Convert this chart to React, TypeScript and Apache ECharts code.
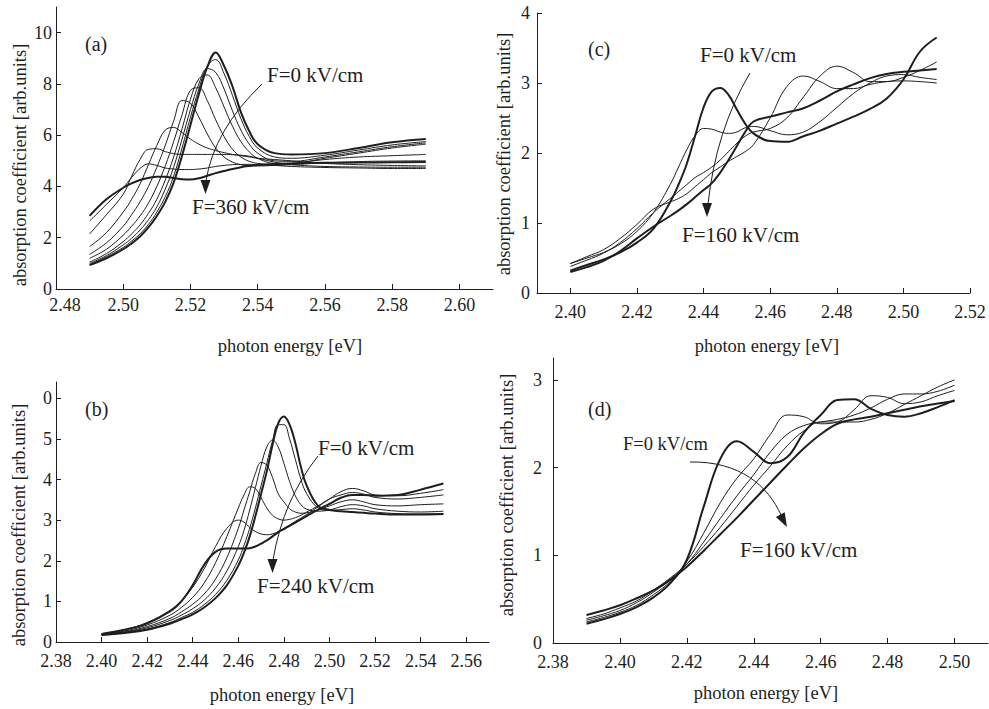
import React, { useEffect, useRef } from "react";
import * as echarts from "echarts";

const FONT = "'Liberation Serif', 'Times New Roman', serif";
const INK = "#1e1e1e";

// ---------- Panel (a) ----------
const xA = [2.49, 2.495, 2.5, 2.5025, 2.505, 2.5075, 2.51, 2.5125, 2.515, 2.5175, 2.52, 2.5225, 2.525, 2.5275, 2.53, 2.5325, 2.535, 2.5375, 2.54, 2.545, 2.55, 2.56, 2.57, 2.58, 2.59];
const aF0 = [0.93, 1.2, 1.55, 1.78, 2.05, 2.4, 2.85, 3.4, 4.15, 5.2, 6.4, 7.6, 8.65, 9.23, 8.7, 7.9, 6.9, 6.15, 5.65, 5.3, 5.25, 5.3, 5.5, 5.72, 5.85];
const aF40 = [0.95, 1.25, 1.62, 1.87, 2.15, 2.52, 3.0, 3.6, 4.4, 5.5, 6.7, 7.8, 8.7, 8.95, 8.4, 7.55, 6.65, 5.95, 5.5, 5.15, 5.1, 5.22, 5.42, 5.62, 5.75];
const aF80 = [1.0, 1.3, 1.72, 1.98, 2.3, 2.7, 3.2, 3.9, 4.75, 5.85, 7.0, 8.0, 8.6, 8.45, 7.8, 6.95, 6.2, 5.65, 5.3, 5.0, 4.98, 5.15, 5.35, 5.55, 5.7];
const aF120 = [1.05, 1.38, 1.85, 2.15, 2.5, 2.95, 3.5, 4.25, 5.15, 6.25, 7.4, 8.2, 8.35, 7.85, 7.1, 6.35, 5.75, 5.35, 5.1, 4.9, 4.9, 5.1, 5.3, 5.5, 5.65];
const aF160 = [1.2, 1.55, 2.1, 2.45, 2.85, 3.35, 4.0, 4.8, 5.75, 6.8, 7.75, 7.85, 7.35, 6.6, 5.95, 5.45, 5.15, 4.98, 4.9, 4.85, 4.9, 5.05, 5.15, 5.2, 5.25];
const aF200 = [1.35, 1.8, 2.45, 2.9, 3.4, 4.0, 4.75, 5.6, 6.55, 7.35, 7.25, 6.7, 6.05, 5.5, 5.15, 4.95, 4.85, 4.8, 4.8, 4.82, 4.85, 4.92, 4.97, 4.99, 5.0];
const aF240 = [1.65, 2.2, 3.0, 3.5, 4.1, 4.85, 5.6, 6.2, 6.3, 6.1, 5.85, 5.65, 5.5, 5.4, 5.32, 5.25, 5.2, 5.15, 5.1, 5.05, 5.0, 4.9, 4.85, 4.82, 4.8];
const aF280 = [2.15, 2.9, 3.7, 4.4, 5.05, 5.45, 5.47, 5.36, 5.28, 5.25, 5.25, 5.25, 5.25, 5.25, 5.25, 5.24, 5.22, 5.18, 5.1, 4.95, 4.85, 4.78, 4.76, 4.75, 4.75];
const aF320 = [2.65, 3.3, 3.95, 4.35, 4.7, 4.88, 4.82, 4.72, 4.68, 4.66, 4.66, 4.68, 4.72, 4.78, 4.82, 4.85, 4.86, 4.86, 4.85, 4.82, 4.78, 4.74, 4.72, 4.7, 4.7];
const aF360 = [2.85, 3.5, 3.95, 4.12, 4.25, 4.33, 4.38, 4.38, 4.33, 4.28, 4.27, 4.32, 4.42, 4.52, 4.6, 4.68, 4.75, 4.8, 4.84, 4.88, 4.9, 4.92, 4.93, 4.94, 4.95];

// ---------- Panel (b) ----------
const xB = [2.4, 2.41, 2.42, 2.43, 2.435, 2.44, 2.445, 2.45, 2.455, 2.46, 2.4625, 2.465, 2.4675, 2.47, 2.4725, 2.475, 2.4775, 2.48, 2.4825, 2.485, 2.4875, 2.49, 2.495, 2.5, 2.505, 2.51, 2.515, 2.52, 2.53, 2.54, 2.55];
const bF0 = [0.17, 0.22, 0.3, 0.45, 0.56, 0.68, 0.85, 1.08, 1.4, 1.88, 2.2, 2.6, 3.1, 3.65, 4.2, 4.85, 5.38, 5.55, 5.35, 4.9, 4.3, 3.85, 3.35, 3.25, 3.22, 3.2, 3.18, 3.16, 3.14, 3.14, 3.15];
const bF40 = [0.17, 0.23, 0.32, 0.48, 0.6, 0.73, 0.92, 1.17, 1.52, 2.02, 2.38, 2.8, 3.3, 3.85, 4.4, 4.95, 5.35, 5.35, 5.0, 4.5, 4.0, 3.65, 3.3, 3.24, 3.26, 3.28, 3.25, 3.2, 3.16, 3.15, 3.16];
const bF80 = [0.18, 0.24, 0.35, 0.53, 0.66, 0.82, 1.03, 1.33, 1.75, 2.35, 2.75, 3.25, 3.8, 4.35, 4.8, 4.97, 4.8, 4.4, 3.95, 3.6, 3.38, 3.27, 3.22, 3.25, 3.33, 3.38, 3.35, 3.28, 3.22, 3.2, 3.22];
const bF120 = [0.18, 0.25, 0.38, 0.58, 0.74, 0.93, 1.18, 1.55, 2.08, 2.8, 3.25, 3.7, 4.15, 4.42, 4.35, 4.05, 3.65, 3.45, 3.28, 3.2, 3.17, 3.18, 3.25, 3.35, 3.45, 3.5, 3.45, 3.38, 3.35, 3.38, 3.4];
const bF160 = [0.19, 0.27, 0.42, 0.66, 0.85, 1.1, 1.45, 1.95, 2.6, 3.3, 3.62, 3.82, 3.78, 3.55, 3.3, 3.12, 3.03, 3.0, 3.02, 3.06, 3.12, 3.2, 3.35, 3.52, 3.62, 3.68, 3.64, 3.56, 3.52, 3.56, 3.62];
const bF200 = [0.2, 0.3, 0.48, 0.78, 1.02, 1.35, 1.8, 2.35, 2.8, 3.0, 2.95, 2.82, 2.72, 2.66, 2.64, 2.66, 2.72, 2.8, 2.88, 2.97, 3.05, 3.14, 3.33, 3.52, 3.7, 3.78, 3.72, 3.62, 3.6, 3.66, 3.75];
const bF240 = [0.2, 0.3, 0.46, 0.75, 1.0, 1.4, 1.9, 2.22, 2.3, 2.3, 2.3, 2.31, 2.35, 2.42, 2.5, 2.6, 2.7, 2.78, 2.86, 2.94, 3.02, 3.1, 3.26, 3.4, 3.55, 3.62, 3.62, 3.6, 3.62, 3.75, 3.9];

// ---------- Panel (c) ----------
const xC = [2.4, 2.405, 2.41, 2.415, 2.42, 2.425, 2.43, 2.4325, 2.435, 2.4375, 2.44, 2.4425, 2.445, 2.4475, 2.45, 2.4525, 2.455, 2.46, 2.465, 2.47, 2.475, 2.48, 2.485, 2.49, 2.495, 2.5, 2.505, 2.51];
const cF0 = [0.32, 0.4, 0.48, 0.58, 0.72, 0.92, 1.3, 1.55, 1.85, 2.25, 2.65, 2.88, 2.93, 2.83, 2.62, 2.42, 2.28, 2.17, 2.16, 2.24, 2.32, 2.42, 2.52, 2.63, 2.78, 3.05, 3.45, 3.65];
const cF40 = [0.42, 0.5, 0.58, 0.7, 0.88, 1.15, 1.55, 1.8, 2.05, 2.25, 2.35, 2.34, 2.3, 2.28, 2.3, 2.36, 2.38, 2.32, 2.26, 2.3, 2.45, 2.65, 2.85, 3.0, 3.1, 3.12, 3.08, 3.05];
const cF80 = [0.42, 0.52, 0.62, 0.78, 0.98, 1.2, 1.3, 1.35, 1.42, 1.52, 1.62, 1.72, 1.8, 1.88, 1.95, 2.02, 2.12, 2.5, 2.95, 3.1, 3.02, 2.92, 2.92, 2.98, 3.02, 3.03, 3.02, 3.0];
const cF120 = [0.38, 0.47, 0.57, 0.72, 0.92, 1.15, 1.35, 1.45, 1.55, 1.65, 1.72, 1.8, 1.9, 2.02, 2.14, 2.24, 2.3, 2.35, 2.5, 2.8, 3.1, 3.24, 3.15, 3.02, 3.02, 3.08, 3.18, 3.3];
const cF160 = [0.3, 0.37, 0.46, 0.6, 0.78, 0.95, 1.1, 1.18, 1.27, 1.37, 1.47, 1.57, 1.72, 1.9, 2.1, 2.3, 2.45, 2.52, 2.58, 2.64, 2.75, 2.88, 2.98, 3.07, 3.13, 3.16, 3.18, 3.2];

// ---------- Panel (d) ----------
const xD = [2.39, 2.395, 2.4, 2.405, 2.41, 2.415, 2.42, 2.425, 2.43, 2.435, 2.44, 2.445, 2.45, 2.455, 2.46, 2.465, 2.47, 2.475, 2.48, 2.485, 2.49, 2.495, 2.5];
const dF0 = [0.22, 0.27, 0.33, 0.41, 0.52, 0.68, 0.95, 1.55, 2.1, 2.3, 2.18, 2.05, 2.12, 2.4, 2.6, 2.77, 2.78, 2.67, 2.6, 2.58, 2.62, 2.69, 2.77];
const dF40 = [0.24, 0.29, 0.35, 0.43, 0.55, 0.7, 0.93, 1.25, 1.6, 1.88, 2.1, 2.38, 2.6, 2.58, 2.5, 2.52, 2.66, 2.82, 2.8, 2.73, 2.75, 2.82, 2.88];
const dF80 = [0.26, 0.31, 0.37, 0.46, 0.58, 0.72, 0.9, 1.15, 1.42, 1.68, 1.92, 2.18, 2.38, 2.48, 2.52, 2.55, 2.6, 2.68, 2.78, 2.84, 2.84, 2.87, 2.94];
const dF120 = [0.28, 0.33, 0.4, 0.48, 0.6, 0.74, 0.9, 1.1, 1.32, 1.56, 1.8, 2.02, 2.25, 2.42, 2.52, 2.52, 2.52, 2.55, 2.62, 2.72, 2.82, 2.92, 3.0];
const dF160 = [0.32, 0.37, 0.43, 0.51, 0.6, 0.72, 0.87, 1.05, 1.24, 1.43, 1.63, 1.83, 2.03, 2.22, 2.38, 2.5, 2.55, 2.58, 2.62, 2.66, 2.7, 2.73, 2.76];

// ---------- Tick values ----------
const xTicksA = [2.48, 2.5, 2.52, 2.54, 2.56, 2.58, 2.6];
const yTicksA = [0, 2, 4, 6, 8, 10];
const xTicksB = [2.38, 2.4, 2.42, 2.44, 2.46, 2.48, 2.5, 2.52, 2.54, 2.56];
const yTicksB = [0, 1, 2, 3, 4, 5, 6];
const xTicksC = [2.4, 2.42, 2.44, 2.46, 2.48, 2.5, 2.52];
const yTicksC = [0, 1, 2, 3, 4];
const xTicksD = [2.38, 2.4, 2.42, 2.44, 2.46, 2.48, 2.5];
const yTicksD = [0, 1, 2, 3];

const xTitle = "photon energy [eV]";
const yTitle = "absorption coefficient [arb.units]";

function pairs(xs: number[], ys: number[]) {
  return xs.map((x, i) => [x, ys[i]]);
}

const labelBase = { color: INK, fontFamily: FONT, fontSize: 18 };

function xAx(gi: number, min: number, max: number, ticks: number[], margin: number, shiftFirst = false) {
  return {
    type: "value",
    gridIndex: gi,
    min,
    max,
    axisLine: { show: true, onZero: false, lineStyle: { color: INK, width: 1 } },
    axisTick: { show: true, inside: true, length: 5, customValues: ticks, lineStyle: { color: INK, width: 1 } },
    axisLabel: {
      show: true,
      customValues: ticks,
      margin,
      ...labelBase,
      formatter: (v: number) => {
        const s = v.toFixed(2);
        return shiftFirst && Math.abs(v - ticks[0]) < 1e-6 ? `{r|${s}}` : s;
      },
      rich: { r: { ...labelBase, padding: [0, 0, 0, 18] } },
    },
    splitLine: { show: false },
  };
}

function yAx(gi: number, min: number, max: number, ticks: number[], margin: number, fmt?: (v: number) => string) {
  return {
    type: "value",
    gridIndex: gi,
    min,
    max,
    axisLine: { show: true, onZero: false, lineStyle: { color: INK, width: 1 } },
    axisTick: { show: true, inside: true, length: 5, customValues: ticks, lineStyle: { color: INK, width: 1 } },
    axisLabel: {
      show: true,
      customValues: ticks,
      margin,
      ...labelBase,
      formatter: fmt || ((v: number) => String(Math.round(v))),
    },
    splitLine: { show: false },
  };
}

function txt(text: string, x: number, y: number, size: number, align = "left", rotation = 0) {
  return {
    type: "text",
    x,
    y,
    rotation,
    silent: true,
    style: { text, fill: INK, fontFamily: FONT, fontSize: size, align, verticalAlign: "middle" },
  };
}

function curve(x1: number, y1: number, cx: number, cy: number, x2: number, y2: number) {
  return {
    type: "bezierCurve",
    silent: true,
    shape: { x1, y1, cpx1: cx, cpy1: cy, x2, y2 },
    style: { stroke: INK, lineWidth: 1, fill: "none" },
  };
}

function cubic(x1: number, y1: number, c1x: number, c1y: number, c2x: number, c2y: number, x2: number, y2: number) {
  return {
    type: "bezierCurve",
    silent: true,
    shape: { x1, y1, cpx1: c1x, cpy1: c1y, cpx2: c2x, cpy2: c2y, x2, y2 },
    style: { stroke: INK, lineWidth: 1, fill: "none" },
  };
}

function head(tx: number, ty: number, dx: number, dy: number) {
  const len = 14;
  const hw = 5;
  const bx = tx - dx * len;
  const by = ty - dy * len;
  const px = -dy * hw;
  const py = dx * hw;
  return {
    type: "polygon",
    silent: true,
    shape: { points: [[tx, ty], [bx + px, by + py], [bx - px, by - py]] },
    style: { fill: INK },
  };
}

export default function App() {
  const ref = useRef<HTMLDivElement>(null);

  useEffect(() => {
    if (!ref.current) return;
    const chart = echarts.init(ref.current, null, { renderer: "svg" });

    const panels = [
      { gi: 0, xs: xA, curves: [aF0, aF40, aF80, aF120, aF160, aF200, aF240, aF280, aF320, aF360], thick: [0, 9] },
      { gi: 1, xs: xB, curves: [bF0, bF40, bF80, bF120, bF160, bF200, bF240], thick: [0, 6] },
      { gi: 2, xs: xC, curves: [cF0, cF40, cF80, cF120, cF160], thick: [0, 4] },
      { gi: 3, xs: xD, curves: [dF0, dF40, dF80, dF120, dF160], thick: [0, 4] },
    ];

    const series: any[] = [];
    panels.forEach((p) => {
      p.curves.forEach((ys, i) => {
        series.push({
          type: "line",
          xAxisIndex: p.gi,
          yAxisIndex: p.gi,
          data: pairs(p.xs, ys),
          smooth: 0.4,
          showSymbol: false,
          silent: true,
          lineStyle: { color: INK, width: p.thick.includes(i) ? 2 : 1 },
        });
      });
    });

    const option: any = {
      animation: false,
      backgroundColor: "#ffffff",
      grid: [
        { left: 56, top: 7, width: 437, height: 282 },
        { left: 56, top: 382, width: 433, height: 260 },
        { left: 537, top: 13, width: 433, height: 280 },
        { left: 553, top: 358, width: 435, height: 285 },
      ],
      xAxis: [
        xAx(0, 2.48, 2.61, xTicksA, 7, true),
        xAx(1, 2.38, 2.57, xTicksB, 10),
        xAx(2, 2.39, 2.52, xTicksC, 10),
        xAx(3, 2.38, 2.51, xTicksD, 10),
      ],
      yAxis: [
        yAx(0, 0, 11, yTicksA, 4),
        yAx(1, 0, 6.4, yTicksB, 4, (v: number) => (Math.round(v) === 6 ? "0" : String(Math.round(v)))),
        yAx(2, 0, 4, yTicksC, 7),
        yAx(3, 0, 3.25, yTicksD, 11),
      ],
      series,
      graphic: [
        // axis titles
        txt(xTitle, 290, 346, 18.5, "center"),
        txt(xTitle, 767, 346, 18.5, "center"),
        txt(xTitle, 282, 695, 18.5, "center"),
        txt(xTitle, 766, 693, 18.5, "center"),
        txt(yTitle, 20, 165, 18.5, "center", Math.PI / 2),
        txt(yTitle, 504, 154, 18.5, "center", Math.PI / 2),
        txt(yTitle, 19, 525, 18.5, "center", Math.PI / 2),
        txt(yTitle, 507, 495, 18.5, "center", Math.PI / 2),
        // panel letters
        txt("(a)", 85, 44, 20),
        txt("(c)", 588, 49, 20),
        txt("(b)", 85, 409, 20),
        txt("(d)", 588, 409, 20),
        // field annotations
        txt("F=0 kV/cm", 267, 75, 21),
        txt("F=360 kV/cm", 192, 207, 21),
        txt("F=0 kV/cm", 318, 448, 21),
        txt("F=240 kV/cm", 257, 586, 21),
        txt("F=0 kV/cm", 700, 55, 21),
        txt("F=160 kV/cm", 682, 235, 21),
        txt("F=0 kV/cm", 623, 444, 18.5),
        txt("F=160 kV/cm", 740, 550, 21),
        // arrows
        curve(262, 84, 214, 130, 206, 181),
        head(205.5, 194, 0, 1),
        curve(318, 456, 283, 500, 273, 560),
        head(272.5, 573, 0, 1),
        curve(750, 73, 716, 130, 708, 204),
        head(707, 217, 0, 1),
        cubic(690, 462, 740, 461, 768, 486, 781, 515),
        head(787, 527, 0.48, 0.88),
      ],
    };

    chart.setOption(option);
    return () => chart.dispose();
  }, []);

  return (
    <div
      ref={ref}
      style={{ position: "absolute", left: 0, top: 0, width: 989, height: 709, background: "#fff" }}
    />
  );
}
